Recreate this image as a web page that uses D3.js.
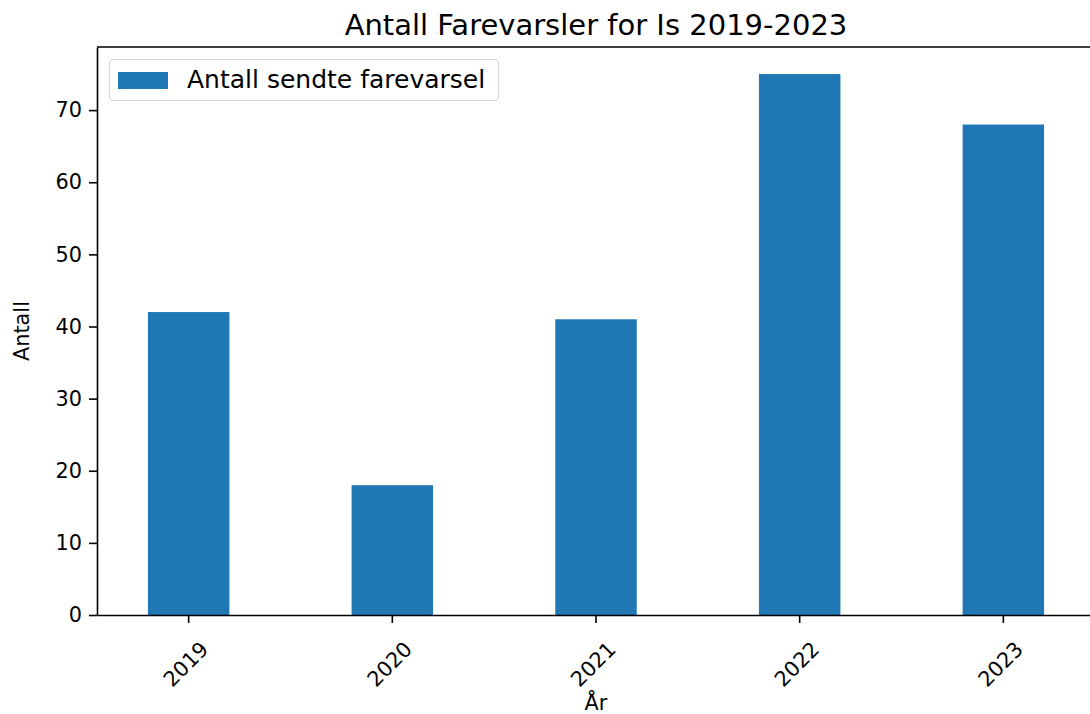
<!DOCTYPE html>
<html>
<head>
  <meta charset="utf-8" />
  <title>Antall Farevarsler for Is 2019-2023</title>
  <script src="https://d3js.org/d3.v7.min.js"></script>
</head>
<body>
  <div id='graph'></div>
</body>
<style>
  body {
    margin: 0;
    background: #fff;
  }
  text {
    font-family: 'DejaVu Sans', sans-serif;
    fill: #000;
  }
</style>
<script>
  // values
  var years = ['2019', '2020', '2021', '2022', '2023']
  var counts = [42, 18, 41, 75, 68]
  var yTicks = [0, 10, 20, 30, 40, 50, 60, 70]
  var seriesName = 'Antall sendte farevarsel'

  var canvas_width = 1090
  var canvas_height = 714
  var plot = {left: 97, right: 1095, top: 47, bottom: 615}
  var barColor = '#1f77b4'

  const svg = d3.select('#graph').append('svg')
    .attr('width', canvas_width)
    .attr('height', canvas_height)
    .style('display', 'block')

  // pandas style: bar width 0.4, 0.25 extra on each side
  var xScale = d3.scaleBand()
    .domain(years)
    .range([plot.left, plot.right])
    .paddingInner(0.6)
    .paddingOuter(0.25)

  var yScale = d3.scaleLinear()
    .domain([0, 75 * 1.05])
    .range([plot.bottom, plot.top])

  // bars
  svg.append('g')
    .selectAll('rect')
    .data(counts)
    .enter()
    .append('rect')
    .attr('x', function (d, i) { return xScale(years[i]) })
    .attr('y', function (d) { return yScale(d) })
    .attr('width', xScale.bandwidth())
    .attr('height', function (d) { return yScale(0) - yScale(d) })
    .attr('fill', barColor)

  // top spine
  svg.append('line')
    .attr('x1', plot.left)
    .attr('x2', plot.right)
    .attr('y1', plot.top)
    .attr('y2', plot.top)
    .attr('stroke', '#000')
    .attr('stroke-width', 1.6)

  // Add the Y Axis
  const yAxis = svg.append('g')
    .attr('transform', 'translate(' + plot.left + ',0)')
    .call(d3.axisLeft(yScale).tickValues(yTicks).tickSize(8).tickSizeOuter(0).tickPadding(7))
  yAxis.select('.domain').attr('stroke-width', 1.6)
  yAxis.selectAll('line').attr('stroke-width', 1.6)
  yAxis.selectAll('text')
    .style('font-size', '20.8px')
    .attr('font-family', null)

  // Add the X Axis
  const xAxis = svg.append('g')
    .attr('transform', 'translate(0,' + plot.bottom + ')')
    .call(d3.axisBottom(xScale).tickSize(8).tickSizeOuter(0))
  xAxis.select('.domain').attr('stroke-width', 1.6)
  xAxis.selectAll('line').attr('stroke-width', 1.6)
  xAxis.selectAll('text')
    .attr('x', 0)
    .attr('y', 0)
    .attr('dy', '0.36em')
    .attr('text-anchor', 'middle')
    .attr('transform', 'translate(-3,49) rotate(-45)')
    .style('font-size', '20.8px')
  svg.selectAll('.tick text').attr('font-family', null)

  // axis labels
  svg.append('text')
    .attr('x', (plot.left + plot.right) / 2)
    .attr('y', 710)
    .attr('text-anchor', 'middle')
    .style('font-size', '20.8px')
    .text('År')

  svg.append('text')
    .attr('transform', 'translate(29,' + ((plot.top + plot.bottom) / 2) + ') rotate(-90)')
    .attr('text-anchor', 'middle')
    .style('font-size', '20.8px')
    .text('Antall')

  // title
  svg.append('text')
    .attr('x', (plot.left + plot.right) / 2)
    .attr('y', 35)
    .attr('text-anchor', 'middle')
    .style('font-size', '29px')
    .text('Antall Farevarsler for Is 2019-2023')

  // legend
  const legend = svg.append('g')
  legend.append('rect')
    .attr('x', 109.5)
    .attr('y', 59.5)
    .attr('width', 389)
    .attr('height', 41)
    .attr('rx', 4)
    .attr('fill', '#fff')
    .attr('fill-opacity', 0.8)
    .attr('stroke', '#d6d6d6')
    .attr('stroke-width', 1.2)
  legend.append('rect')
    .attr('x', 118)
    .attr('y', 72)
    .attr('width', 50)
    .attr('height', 17)
    .attr('fill', barColor)
  legend.append('text')
    .attr('x', 187)
    .attr('y', 88)
    .style('font-size', '25px')
    .text(seriesName)
</script>
</html>
